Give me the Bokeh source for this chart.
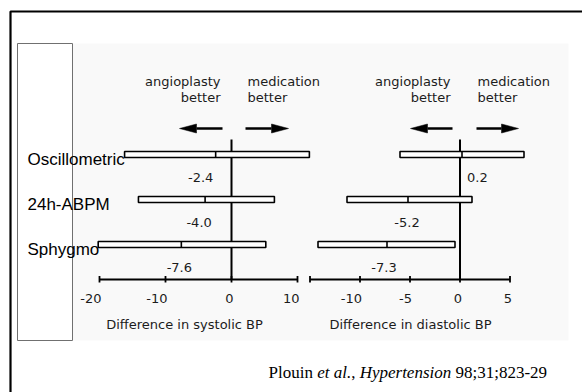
from bokeh.plotting import figure
from bokeh.models import Range1d
from bokeh.core.properties import value
from bokeh.embed import file_html
from bokeh.resources import INLINE

# ---------------- data ----------------
methods = ["Oscillometric", "24h-ABPM", "Sphygmo"]
rows = [0, 1, 2]
sys_mean = [-2.4, -4.0, -7.6]
sys_low = [-16.2, -14.1, -20.2]
sys_high = [11.8, 6.5, 5.2]
dia_mean = [0.2, -5.2, -7.3]
dia_low = [-6.0, -11.3, -14.2]
dia_high = [6.4, 1.2, -0.5]
sys_ticks = [-20, -10, 0, 10]
sys_tick_labels = ["-20", "-10", "0", "10"]
dia_ticks = [-15, -10, -5, 0, 5]
dia_tick_labels = ["", "-10", "-5", "0", "5"]
sys_title = "Difference in systolic BP"
dia_title = "Difference in diastolic BP"

# ---------------- layout ----------------
W, H = 582, 392
OX, OY = 0, 0
ROW0, ROWSP = 154.0, 45.0
SYS0, SYSK = 231.0, 6.6
DIA0, DIAK = 459.5, 10.0

p = figure(width=W, height=H, output_backend="svg", toolbar_location=None,
           x_axis_type=None, y_axis_type=None,
           x_range=Range1d((OX - SYS0) / SYSK, (OX + W - SYS0) / SYSK),
           y_range=Range1d((OY + H - ROW0) / ROWSP, (OY - ROW0) / ROWSP),
           min_border_left=0, min_border_right=0, min_border_top=0, min_border_bottom=0)
p.extra_x_ranges = {"dia": Range1d((OX - DIA0) / DIAK, (OX + W - DIA0) / DIAK),
                    "px": Range1d(OX, OX + W)}
p.extra_y_ranges = {"px": Range1d(OY + H, OY)}
p.grid.visible = False
p.outline_line_color = None
p.background_fill_color = "white"
p.border_fill_color = "white"

SANS = value("DejaVu Sans")
TXT = "#1c1c1c"
PX = dict(x_range_name="px", y_range_name="px")

# faint scanned-image background, outer frame and inner grey box
p.quad(left=72, right=568, top=43, bottom=340, fill_color="#f9f9f9",
       line_color=None, **PX)
p.quad(left=10, right=700, top=11, bottom=500, fill_color=None,
       line_color="black", line_width=2.2, **PX)
p.quad(left=17, right=72, top=43, bottom=340, fill_color=None,
       line_color="#707070", line_width=1, **PX)

panels = [
    dict(rng="default", low=sys_low, high=sys_high, mean=sys_mean,
         ticks=sys_ticks, tlabels=sys_tick_labels, title=sys_title, title_x=184,
         hdr_l=220, hdr_r=247, arr_l=(222, 179), arr_r=(245, 288),
         lab_dx=[-15, -6, -2], lab_align=["center", "center", "center"]),
    dict(rng="dia", low=dia_low, high=dia_high, mean=dia_mean,
         ticks=dia_ticks, tlabels=dia_tick_labels, title=dia_title, title_x=410,
         hdr_l=450, hdr_r=477, arr_l=(452, 410), arr_r=(476, 518),
         lab_dx=[5, -1, -3], lab_align=["left", "center", "center"]),
]

AXIS_Y = 279
for pn in panels:
    rn = pn["rng"]
    xr = {} if rn == "default" else {"x_range_name": rn}
    # zero line
    p.segment(x0=0, x1=0, y0=139, y1=AXIS_Y, line_color="black", line_width=2,
              y_range_name="px", **xr)
    # axis line and ticks
    p.segment(x0=min(pn["ticks"]), x1=max(pn["ticks"]), y0=AXIS_Y, y1=AXIS_Y,
              line_color="black", line_width=1.8, y_range_name="px", **xr)
    p.segment(x0=pn["ticks"], x1=pn["ticks"], y0=AXIS_Y - 3.5, y1=AXIS_Y + 3,
              line_color="black", line_width=1.8, y_range_name="px", **xr)
    p.text(x=pn["ticks"], y=298, text=pn["tlabels"], text_font=SANS,
           text_font_size="13px", text_align="right", text_baseline="alphabetic",
           text_color=TXT, x_offset=2, y_range_name="px", **xr)
    p.text(x=pn["title_x"], y=324, text=[pn["title"]], text_font=SANS,
           text_font_size="13px", text_align="center", text_baseline="alphabetic",
           text_color=TXT, **PX)
    # bars
    p.hbar(y=rows, left=pn["low"], right=pn["high"], height=0.135,
           fill_color="white", line_color="black", line_width=1.6, **xr)
    p.rect(x=pn["mean"], y=rows, width=1.6, height=6, width_units="screen",
           height_units="screen", fill_color="black", line_color=None, **xr)
    # value labels
    for i in rows:
        p.text(x=[pn["mean"][i]], y=[rows[i]], text=[f"{pn['mean'][i]:.1f}"],
               text_font=SANS, text_font_size="13px", text_align=pn["lab_align"][i],
               text_baseline="alphabetic", text_color=TXT,
               x_offset=pn["lab_dx"][i], y_offset=23, **xr)
    # headers
    p.text(x=pn["hdr_l"], y=[81, 97], text=["angioplasty", "better"], text_font=SANS,
           text_font_size="13px", text_align="right", text_baseline="alphabetic",
           text_color=TXT, **PX)
    p.text(x=pn["hdr_r"], y=[81, 97], text=["medication", "better"], text_font=SANS,
           text_font_size="13px", text_align="left", text_baseline="alphabetic",
           text_color=TXT, **PX)
    # arrows
    for tail, tip in (pn["arr_l"], pn["arr_r"]):
        d = 1 if tip > tail else -1
        base = tip - d * 17
        p.segment(x0=tail, x1=base, y0=128, y1=128, line_color="black",
                  line_width=2.6, **PX)
        p.patch(x=[tip, base, base], y=[128, 123.5, 132.5], fill_color="black",
                line_color="black", line_width=0.5, **PX)

# method labels
p.text(x=27, y=rows, text=methods, text_font=value("Liberation Sans"),
       text_font_size="17px", text_align="left", text_baseline="alphabetic",
       text_color="black", y_offset=5, x_range_name="px")

# citation
FS = 17
pieces = [("Plouin", "normal", 2.612, 0.25), ("et al.", "italic", 2.0, 0.0),
          (",", "normal", 0.25, 0.25), ("Hypertension", "italic", 5.388, 0.25),
          ("98;31;823-29", "normal", 5.389, 0.0)]
cx = 268.0
for txt, style, wem, gap in pieces:
    p.text(x=cx, y=372, text=[txt], text_font=value("Liberation Serif"),
           text_font_size=f"{FS}px", text_font_style=style, text_align="left",
           text_baseline="alphabetic", text_color="black", **PX)
    cx += (wem + gap) * FS

open("out.html", "w").write(file_html(p, INLINE))
